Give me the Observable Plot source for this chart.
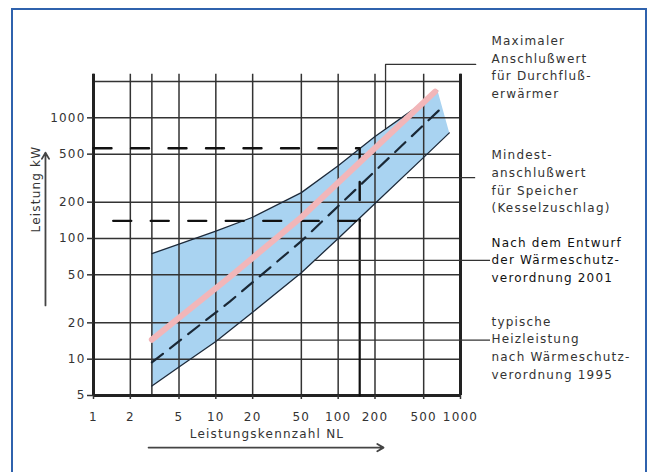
<!DOCTYPE html>
<html><head><meta charset="utf-8">
<script src="https://cdn.jsdelivr.net/npm/d3@7"></script>
<script src="https://cdn.jsdelivr.net/npm/@observablehq/plot@0.6"></script>
<style>
html,body{margin:0;padding:0;background:#fff;}
#wrap{position:relative;width:650px;height:472px;overflow:hidden;}
#frame{position:absolute;left:11px;top:8px;width:636px;height:520px;border:2.5px solid #2f62ad;box-sizing:border-box;}
#chart{position:absolute;left:0;top:0;}
</style></head><body>
<div id="wrap"><div id="frame"></div><div id="chart"></div></div>
<script>
// Grid and tick values
const xGrid = [1, 2, 3, 5, 10, 20, 50, 100, 200, 500, 1000];
const yGrid = [5, 10, 20, 50, 100, 200, 500, 1000, 2000];
const xTicks = [1, 2, 5, 10, 20, 50, 100, 200, 500, 1000];
const yTicks = [5, 10, 20, 50, 100, 200, 500, 1000];

// Blue band (range of typical heating output)
const bandUpperNL = [3, 5, 10, 20, 50, 100, 200, 500, 650];
const bandUpperKW = [75, 90, 115, 150, 240, 400, 700, 1350, 1670];
const bandLowerNL = [3, 5, 10, 20, 50, 100, 200, 500, 810];
const bandLowerKW = [6, 8.6, 14, 24.5, 52, 100, 195, 470, 750];

// Pink line (Entwurf WSchV 2001) and dashed line (WSchV 1995)
const line2001NL = [3, 13, 50, 620];
const line2001KW = [14.5, 48, 150, 1650];
const line1995NL = [3, 13, 50, 700];
const line1995KW = [9.4, 30, 95, 1210];

// Dashed thresholds
const upperDashNL = [1, 150, 150];
const upperDashKW = [560, 560, 140];
const lowerDashNL = [1.45, 150];
const lowerDashKW = [140, 140];
const solidDropNL = [150, 150];
const solidDropKW = [140, 5];

// Leader lines to the annotations
const leaderMaxNL = [1330, 244, 244];
const leaderMaxKW = [2770, 2770, 807];
const leaderLevel = [320, 66, 14.4];
const leaderFrom = [369, 64, 10.3];
const leaderTo = [1330, 1760, 1760];

// Annotation texts
const noteText = [
  "Maximaler\nAnschlußwert\nfür Durchfluß-\nerwärmer",
  "Mindest-\nanschlußwert\nfür Speicher\n(Kesselzuschlag)",
  "Nach dem Entwurf\nder Wärmeschutz-\nverordnung 2001",
  "typische\nHeizleistung\nnach Wärmeschutz-\nverordnung 1995"
];
const noteKW = [2690, 305, 68, 12.7];
const noteColor = ["#333", "#333", "#111", "#333"];

// Axis titles and their arrows
const xTitle = "Leistungskennzahl NL";
const yTitle = "Leistung kW";
const axisArrowX1 = [2.82, 0.405];
const axisArrowY1 = [1.85, 27.9];
const axisArrowX2 = [235, 0.405];
const axisArrowY2 = [1.85, 515];

const pts = (xs, ys) => xs.map((x, i) => ({nl: x, kw: ys[i]}));
const upper = pts(bandUpperNL, bandUpperKW);
const lower = pts(bandLowerNL, bandLowerKW);
const band = upper.concat(lower.slice().reverse());
const leaders = leaderLevel.map((kw, i) => ({kw, x1: leaderFrom[i], x2: leaderTo[i]}));
const notes = noteText.map((t, i) => ({t, kw: noteKW[i], c: noteColor[i]}));
const arrows = axisArrowX1.map((x, i) => ({x1: x, y1: axisArrowY1[i], x2: axisArrowX2[i], y2: axisArrowY2[i]}));

const chart = Plot.plot({
  width: 650, height: 472,
  marginLeft: 93, marginRight: 190, marginTop: 81, marginBottom: 77,
  x: {type: "log", domain: [1, 1000]},
  y: {type: "log", domain: [5, 2000]},
  style: {fontFamily: "'DejaVu Sans', sans-serif", fontSize: "12px", letterSpacing: "1.2px",
          color: "#333", background: "transparent", overflow: "visible"},
  marks: [
    Plot.line(band, {x: "nl", y: "kw", fill: "#a9d3f1", stroke: "none"}),
    Plot.ruleY(yGrid, {x1: 1, x2: 1000, stroke: "#333", strokeWidth: 1.5}),
    Plot.ruleX(xGrid, {y1: 5, y2: 2300, stroke: "#333", strokeWidth: 1.5}),
    Plot.ruleX([1, 1000], {y1: 5, y2: 2300, stroke: "#222", strokeWidth: 3}),
    Plot.ruleY([5], {x1: 1, x2: 1000, stroke: "#222", strokeWidth: 3}),
    Plot.axisX({ticks: xTicks, tickSize: 4, tickFormat: () => "", label: null, strokeWidth: 1.5}),
    Plot.axisY({ticks: yTicks, tickSize: 6, tickFormat: () => "", label: null, strokeWidth: 1.5}),
    Plot.text(xTicks, {x: d => d, text: d => String(d), frameAnchor: "bottom", dy: 22, lineAnchor: "middle", fill: "#333"}),
    Plot.text(yTicks, {y: d => d, text: d => String(d), frameAnchor: "left", dx: -8, textAnchor: "end", fill: "#333"}),
    Plot.line(upper, {x: "nl", y: "kw", stroke: "#1d2a3a", strokeWidth: 1.3}),
    Plot.line(lower, {x: "nl", y: "kw", stroke: "#1d2a3a", strokeWidth: 1.3}),
    Plot.line(pts(upperDashNL, upperDashKW), {x: "nl", y: "kw", stroke: "#111", strokeWidth: 2.4, strokeDasharray: "18,19.5"}),
    Plot.line(pts(lowerDashNL, lowerDashKW), {x: "nl", y: "kw", stroke: "#111", strokeWidth: 2.4, strokeDasharray: "18,19.5"}),
    Plot.line(pts(solidDropNL, solidDropKW), {x: "nl", y: "kw", stroke: "#111", strokeWidth: 2.2}),
    Plot.line(pts(line1995NL, line1995KW), {x: "nl", y: "kw", stroke: "#1a2836", strokeWidth: 2.2, strokeDasharray: "14,9"}),
    Plot.line(pts(line2001NL, line2001KW), {x: "nl", y: "kw", stroke: "#f2b6b9", strokeWidth: 6}),
    Plot.line(pts(leaderMaxNL, leaderMaxKW), {x: "nl", y: "kw", stroke: "#333", strokeWidth: 1.3}),
    Plot.ruleY(leaders, {y: "kw", x1: "x1", x2: "x2", stroke: "#333", strokeWidth: 1.3}),
    Plot.text(notes, {x: 1000, y: "kw", text: "t", fill: "c", dx: 31, textAnchor: "start", lineAnchor: "middle", lineHeight: 1.475, fontSize: 12}),
    Plot.text([yTitle], {text: d => d, frameAnchor: "left", dx: -57, dy: -6, rotate: -90, fill: "#333", fontSize: 12}),
    Plot.text([xTitle], {text: d => d, frameAnchor: "bottom", dx: -10, dy: 42, fill: "#333", fontSize: 12}),
    Plot.arrow(arrows, {x1: "x1", y1: "y1", x2: "x2", y2: "y2", stroke: "#444", strokeWidth: 1.8, headLength: 6})
  ]
});
document.getElementById("chart").appendChild(chart);
</script>
</body></html>
